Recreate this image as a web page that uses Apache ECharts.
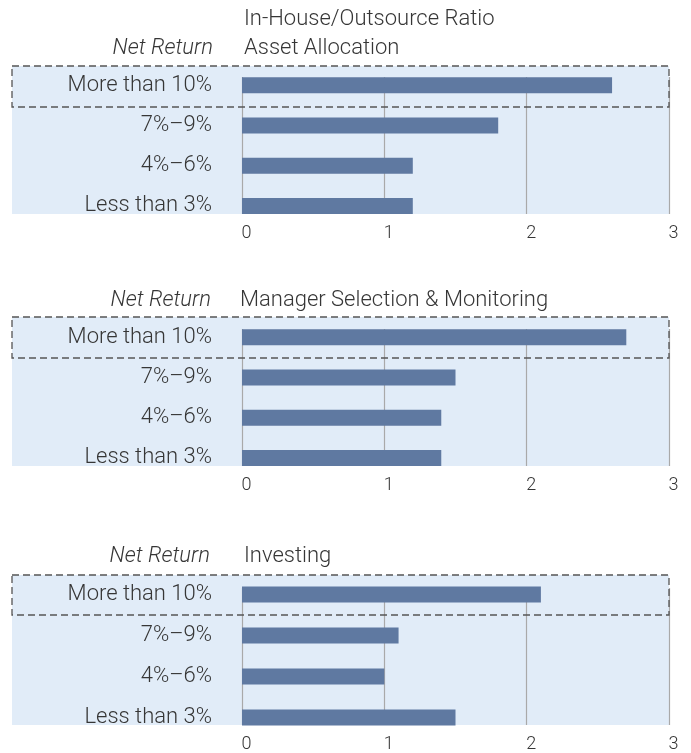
<!DOCTYPE html>
<html>
<head>
<meta charset="utf-8" />
<title></title>
<script src="https://cdn.jsdelivr.net/npm/echarts@6/dist/echarts.min.js"></script>
<style>
html, body { margin: 0; padding: 0; background: #fff; }
#main { width: 691px; height: 753px; }
</style>
</head>
<body>
<div id="main"></div>
<script>
// data
var categories = ['More than 10%', '7%–9%', '4%–6%', 'Less than 3%'];
var assetAllocation = [2.6, 1.8, 1.2, 1.2];
var managerSelection = [2.7, 1.5, 1.4, 1.4];
var investing = [2.1, 1.1, 1.0, 1.5];
var panelTitles = ['Asset Allocation', 'Manager Selection & Monitoring', 'Investing'];
var seriesData = [assetAllocation, managerSelection, investing];
var mainTitle = 'In-House/Outsource Ratio';
var rowTitle = 'Net Return';

// layout of each panel (pixels)
var layout = [
  { bgTop: 66, gridTop: 65, band: 40.25, lineTop: 77, bottom: 214, boxBottom: 107, labelY: 47, titleX: 244, netX: 213 },
  { bgTop: 317, gridTop: 317, band: 40.25, lineTop: 329, bottom: 466, boxBottom: 358, labelY: 299, titleX: 240, netX: 211 },
  { bgTop: 575, gridTop: 574, band: 41, lineTop: 588, bottom: 725, boxBottom: 615, labelY: 555, titleX: 244, netX: 210 }
];
var plotLeft = 242, plotRight = 669, bgLeft = 12;
var font = 'Roboto';
var textColor = '#363636';
var fs = 22;

var grid = [], xAxis = [], yAxis = [], series = [], graphic = [];

graphic.push({
  type: 'text', x: 244, y: 19, z: 10,
  style: { text: mainTitle, font: '300 ' + fs + 'px ' + font, fill: textColor, verticalAlign: 'middle' }
});

layout.forEach(function (p, i) {
  // grid for bars
  grid.push({ left: plotLeft, width: plotRight - plotLeft, top: p.gridTop, height: p.band * 4 });
  xAxis.push({ gridIndex: 2 * i, type: 'value', min: 0, max: 3, show: false });
  yAxis.push({
    gridIndex: 2 * i, type: 'category', inverse: true, data: categories,
    axisLine: { show: false }, axisTick: { show: false }, splitLine: { show: false },
    axisLabel: { margin: 30, fontSize: fs, fontFamily: font, fontWeight: 300, color: textColor, padding: [4, 0, 0, 0] }
  });
  // grid for vertical grid lines and tick labels
  grid.push({ left: plotLeft, width: plotRight - plotLeft, top: p.lineTop, height: p.bottom - p.lineTop });
  xAxis.push({
    gridIndex: 2 * i + 1, type: 'value', min: 0, max: 3, interval: 1,
    axisLine: { show: false }, axisTick: { show: false },
    splitLine: { show: true, lineStyle: { color: '#a9a9a9', width: 1.2 } },
    axisLabel: { margin: 10, fontSize: 18, fontFamily: font, fontWeight: 300, color: textColor, padding: [0, 0, 0, 9] }
  });
  yAxis.push({ gridIndex: 2 * i + 1, type: 'value', min: 0, max: 1, show: false });

  series.push({
    type: 'bar', xAxisIndex: 2 * i, yAxisIndex: 2 * i,
    data: seriesData[i], barWidth: 16, z: 3,
    itemStyle: { color: '#5f79a1' }
  });

  // panel background and dashed box
  graphic.push({
    type: 'rect', z: -10, silent: true,
    shape: { x: bgLeft, y: p.bgTop, width: plotRight - bgLeft, height: p.bottom - p.bgTop },
    style: { fill: '#e1ecf8' }
  });
  graphic.push({
    type: 'rect', z: 10, silent: true,
    shape: { x: bgLeft, y: p.bgTop, width: plotRight - bgLeft, height: p.boxBottom - p.bgTop },
    style: { fill: null, stroke: '#555555', lineWidth: 1.3, lineDash: [7, 4] }
  });
  // panel headings
  graphic.push({
    type: 'text', z: 10, x: p.netX, y: p.labelY + 1,
    style: { text: rowTitle, font: 'italic 300 ' + fs + 'px ' + font, fill: textColor, align: 'right', verticalAlign: 'middle' }
  });
  graphic.push({
    type: 'text', z: 10, x: p.titleX, y: p.labelY + 1,
    style: { text: panelTitles[i], font: '300 ' + fs + 'px ' + font, fill: textColor, align: 'left', verticalAlign: 'middle' }
  });
});

var chart = echarts.init(document.getElementById('main'));
chart.setOption({
  animation: false,
  grid: grid,
  xAxis: xAxis,
  yAxis: yAxis,
  series: series,
  graphic: graphic
});
</script>
</body>
</html>
